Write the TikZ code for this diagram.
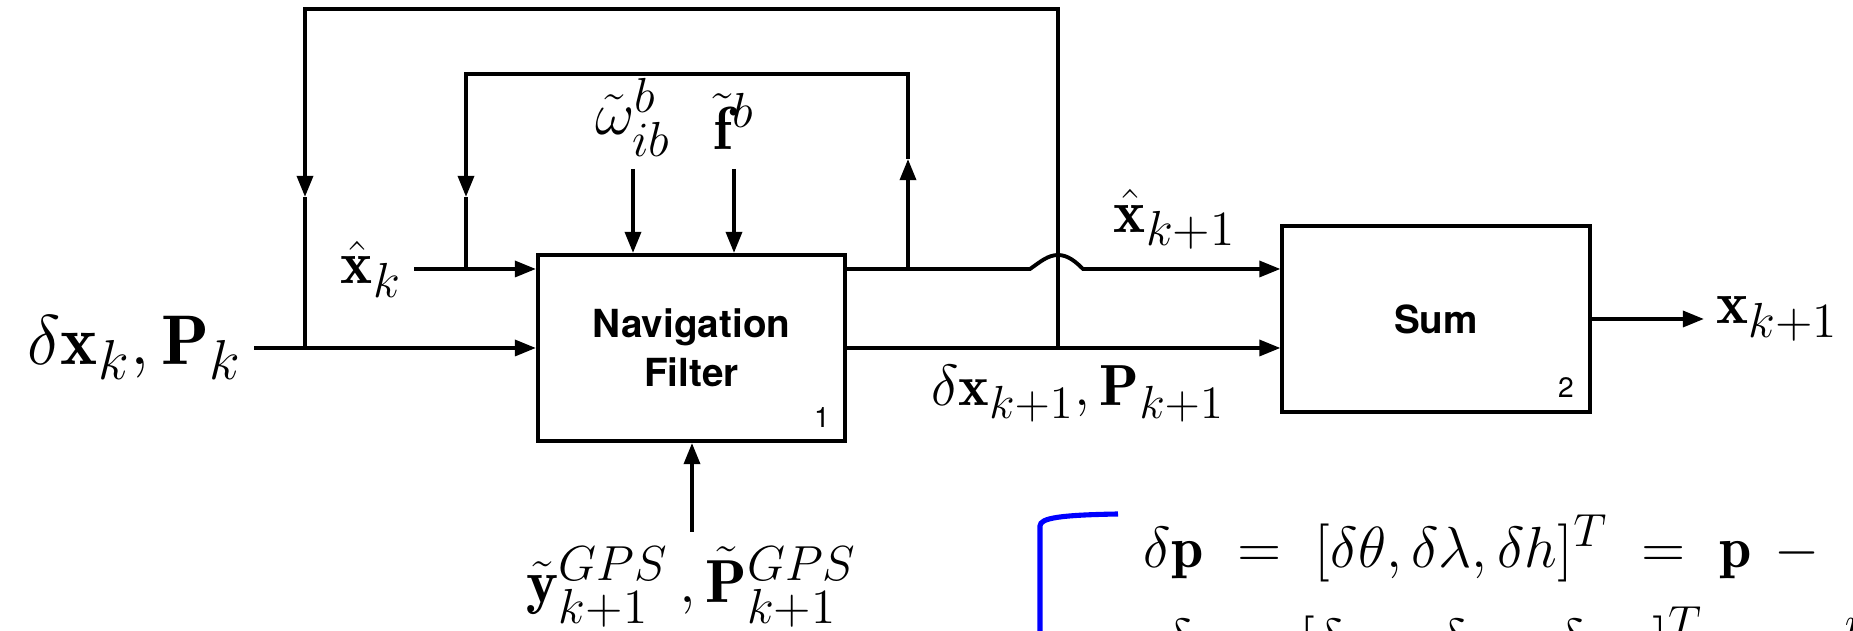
\RequirePackage{fix-cm}
\documentclass[tikz,border=0pt]{standalone}
\usepackage{amsmath, amssymb}
\usepackage{fontspec}
\setsansfont{TeX Gyre Heros}
\usetikzlibrary{arrows.meta}
\DeclareMathSizes{20}{20}{16}{12}
\DeclareMathSizes{17.28}{17.28}{14}{10}
\DeclareMathSizes{16.5}{16.5}{13.2}{10}

\begin{document}
\begin{tikzpicture}[x=0.01cm, y=-0.01cm, >={Triangle[length=6pt, width=4.5pt]}, line width=1.1pt,
    block/.style={draw, minimum width=3.07cm, minimum height=1.86cm, align=center,
        font=\sffamily\bfseries\fontsize{11}{14}\selectfont},
    lab/.style={inner sep=3pt, font=\fontsize{17.28}{20}\selectfont},
    biglab/.style={inner sep=3pt, font=\fontsize{20}{24}\selectfont},
    sublab/.style={inner sep=3pt, font=\fontsize{16.5}{20}\selectfont},
    eq/.style={inner sep=0pt, font=\fontsize{16.5}{20}\selectfont},
    idx/.style={inner sep=0pt, font=\sffamily\fontsize{8}{9}\selectfont}]
    \useasboundingbox (0,0) rectangle (1853,631);

    % blocks
    \node[block] (nav) at (691.5,348) {Navigation\\Filter};
    \node[block] (sum) at (1436,319) {Sum};
    \node[idx] (n1) at (822,418) {1};
    \node[idx] (n2) at (1566,388) {2};

    % inputs
    \node[biglab, anchor=east] (dxk) at (254,348) {$\delta\mathbf{x}_k, \mathbf{P}_k$};
    \node[lab, anchor=base east] (xk) at (414,284) {$\hat{\mathbf{x}}_k$};
    \coordinate (xkin) at (414,269);
    \draw[->] (dxk.east) -- (nav.west);
    \draw[->] (xkin) -- (nav.west |- xkin);

    % sensors
    \node[lab, inner sep=1pt, anchor=south] (om) at (633,162) {$\tilde{\omega}^b_{ib}$};
    \node[lab, inner sep=1pt, anchor=south] (fb) at (734,155) {$\tilde{\mathbf{f}}^b$};
    \coordinate (omin) at (633,169);
    \coordinate (fin) at (734,169);
    \draw[->] (omin) -- (omin |- nav.north);
    \draw[->] (fin) -- (fin |- nav.north);

    \node[lab, inner sep=1pt, anchor=north] (gps) at (692,541)
        {$\tilde{\mathbf{y}}^{GPS}_{k+1}\,,\tilde{\mathbf{P}}^{GPS}_{k+1}$};
    \coordinate (gin) at (692,532);
    \draw[->] (gin) -- (gin |- nav.south);

    % outputs
    \coordinate (ji) at (908,269);
    \coordinate (jo) at (1058,348);
    \draw[->] (nav.east |- ji) -- (1030,269)
        .. controls (1040,262) and (1048,255) .. (1058,255)
        .. controls (1068,255) and (1076,262) .. (1083,269) -- (sum.west |- ji);
    \draw[->] (nav.east) -- (sum.west |- jo);
    \node[lab, anchor=south] (xo) at (1175,262) {$\hat{\mathbf{x}}_{k+1}$};
    \node[sublab, anchor=north] (dxo) at (1078,353) {$\delta\mathbf{x}_{k+1}, \mathbf{P}_{k+1}$};
    \node[lab, anchor=west] (xsum) at (1704,319) {$\mathbf{x}_{k+1}$};
    \draw[->] (sum.east) -- (xsum.west);

    % feedback loops
    \coordinate (iu) at (908,159);
    \coordinate (il) at (466,197);
    \coordinate (ij) at (466,269);
    \draw[->] (ji) -- (iu);
    \draw[->] (iu) -- (908,74) -| (il);
    \draw (il) -- (ij);
    \coordinate (ol) at (305,197);
    \coordinate (oj) at (305,348);
    \draw[->] (jo) -- (1058,9) -| (ol);
    \draw (ol) -- (oj);

    % error states
    \begin{scope}
        \clip (0,0) rectangle (1853,631);
        \draw[blue, line width=1.45pt] (1040,640) -- (1040,526)
            .. controls (1040,518) and (1060,515) .. (1118,514);
        \node[eq, anchor=base west] (eq1) at (1142,568)
            {$\delta\mathbf{p}\ =\ [\delta\theta, \delta\lambda, \delta h]^T\ =\ \mathbf{p}\, -{}$};
        \node[eq, anchor=base west] (eq2) at (1163,660)
            {$\delta\mathbf{v} = [\delta v_N, \delta v_E, \delta v_D]^T\ =\ \mathbf{v}^n -{}$};
    \end{scope}
\end{tikzpicture}
\end{document}
